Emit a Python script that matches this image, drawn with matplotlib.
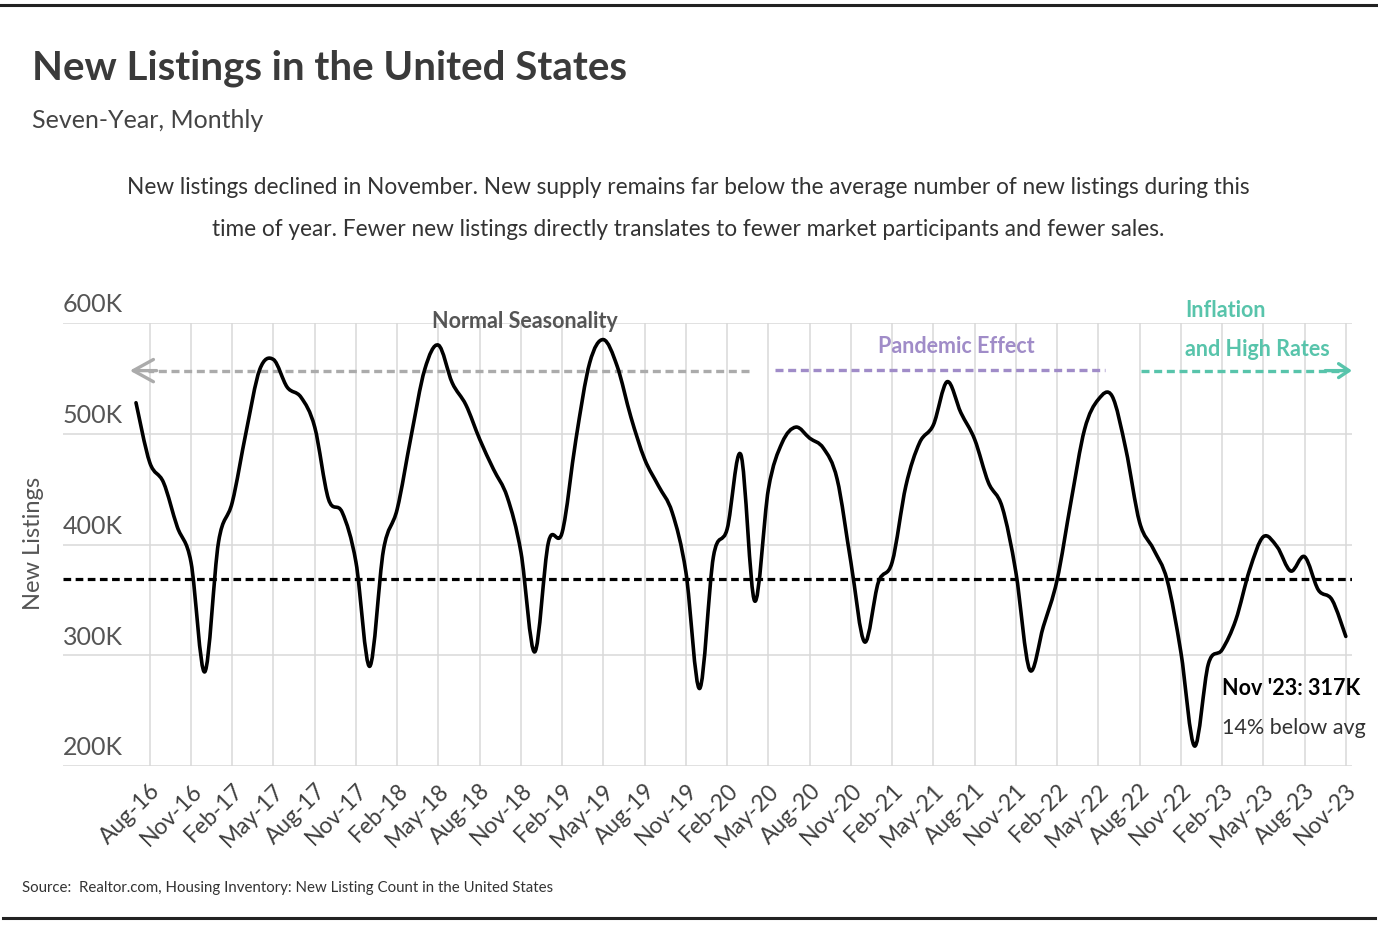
import numpy as np
import matplotlib.pyplot as plt
from matplotlib.path import Path
from matplotlib.patches import PathPatch
from matplotlib.lines import Line2D

# Monthly new listings (thousands), Jul-16 .. Nov-23
new_listings = [
    528, 474, 456, 416, 384, 285,
    402, 438, 501, 558, 567, 542, 533, 506, 441, 429, 384, 290,
    395, 432, 497, 558, 580, 546, 526, 495, 468, 443, 393, 303,
    402, 411, 495, 564, 585, 561, 515, 477, 453, 429, 375, 270,
    389, 414, 481, 349, 450, 492, 506, 496, 487, 459, 384, 312,
    366, 384, 453, 492, 508, 547, 519, 495, 456, 434, 375, 287,
    326, 368, 438, 504, 531, 534, 486, 420, 396, 368, 303, 218,
    292, 305, 332, 377, 407, 398, 376, 389, 359, 350, 317,
]
average = 369
tick_labels = ["Aug-16", "Nov-16", "Feb-17", "May-17", "Aug-17", "Nov-17",
               "Feb-18", "May-18", "Aug-18", "Nov-18", "Feb-19", "May-19",
               "Aug-19", "Nov-19", "Feb-20", "May-20", "Aug-20", "Nov-20",
               "Feb-21", "May-21", "Aug-21", "Nov-21", "Feb-22", "May-22",
               "Aug-22", "Nov-22", "Feb-23", "May-23", "Aug-23", "Nov-23"]
y_ticks = [200, 300, 400, 500, 600]

plt.rcParams["font.family"] = ["Lato", "DejaVu Sans"]

fig = plt.figure(figsize=(13.78, 9.26), dpi=100)
ax = fig.add_axes([63 / 1378, 1 - 766 / 926, (1352 - 63) / 1378, (766 - 323) / 926])

x = np.arange(len(new_listings))
y = np.array(new_listings, dtype=float)

# smoothed line (Catmull-Rom as cubic Bezier segments)
verts = [(x[0], y[0])]
codes = [Path.MOVETO]
n = len(x)
for i in range(n - 1):
    p0 = np.array([x[max(i - 1, 0)], y[max(i - 1, 0)]])
    p1 = np.array([x[i], y[i]])
    p2 = np.array([x[i + 1], y[i + 1]])
    p3 = np.array([x[min(i + 2, n - 1)], y[min(i + 2, n - 1)]])
    c1 = p1 + (p2 - p0) / 6
    c2 = p2 - (p3 - p1) / 6
    verts += [tuple(c1), tuple(c2), tuple(p2)]
    codes += [Path.CURVE4] * 3
ax.add_patch(PathPatch(Path(verts, codes), facecolor="none", edgecolor="black",
                       lw=2.6, zorder=4, capstyle="round", joinstyle="round"))

ax.axhline(average, color="black", lw=2.3, ls=(0, (2.4, 1.4)), zorder=3)

ax.set_xlim(-5.31, 88.45)
ax.set_ylim(200, 600)
tick_pos = np.arange(1, len(x), 3)
ax.set_xticks(tick_pos)
ax.set_xticklabels(tick_labels, rotation=45, ha="right", rotation_mode="anchor",
                   fontsize=16.5, color="#404040")
ax.tick_params(axis="x", length=0, pad=10)
ax.set_yticks(y_ticks)
ax.set_yticklabels([])
ax.tick_params(axis="y", length=0)
ax.grid(True, color="#d9d9d9", lw=1.1)
ax.set_axisbelow(True)
for s in ax.spines.values():
    s.set_visible(False)

for v in y_ticks:
    ax.text(0.0, v + 6, f"{v}K", transform=ax.get_yaxis_transform(), ha="left",
            va="bottom", fontsize=18, color="#555555")

fig.text(33 / 1378, 1 - 543 / 926, "New Listings", rotation=90, ha="center", va="center",
         fontsize=17, color="#555555")

# period annotations
grey, purple, teal = "#ababab", "#a08cc8", "#58c4ab"
dash = (0, (2.4, 1.4))
ax.plot([44.6, 0.9], [557, 557], color=grey, lw=2.4, ls=dash, clip_on=False)
ax.annotate("", xy=(-0.45, 557), xytext=(1.5, 557),
            arrowprops=dict(arrowstyle="->, head_length=1.45, head_width=0.8", color=grey,
                            lw=2.4, shrinkA=0, shrinkB=0),
            annotation_clip=False)
ax.text(28.3, 601, "Normal Seasonality", ha="center", va="center", fontsize=15.5,
        fontweight="bold", color="#555555")

ax.plot([46.5, 70.5], [558, 558], color=purple, lw=2.4, ls=dash)
ax.text(59.7, 579, "Pandemic Effect", ha="center", va="center", fontsize=15.5,
        fontweight="bold", color=purple)

ax.plot([73.1, 87.8], [557, 557], color=teal, lw=2.4, ls=dash, clip_on=False)
ax.annotate("", xy=(88.45, 557), xytext=(86.5, 557),
            arrowprops=dict(arrowstyle="->, head_length=0.75, head_width=0.5", color=teal,
                            lw=2.4, shrinkA=0, shrinkB=0),
            annotation_clip=False)
ax.text(76.3, 611.5, "Inflation", ha="left", va="center", fontsize=15.5,
        fontweight="bold", color=teal, clip_on=False)
ax.text(76.3, 576.5, "and High Rates", ha="left", va="center", fontsize=15.5,
        fontweight="bold", color=teal)

ax.text(79.0, 270, "Nov '23: 317K", ha="left", va="center", fontsize=15.5,
        fontweight="bold", color="black", clip_on=False)
ax.text(79.0, 234, "14% below avg", ha="left", va="center", fontsize=15.5,
        color="#333333", clip_on=False)

# titles and notes
fig.text(32 / 1378, 1 - 68 / 926, "New Listings in the United States", ha="left", va="center",
         fontsize=29, fontweight="bold", color="#3a3a3a")
fig.text(32 / 1378, 1 - 121 / 926, "Seven-Year, Monthly", ha="left", va="center",
         fontsize=18, color="#444444")
fig.text(688 / 1378, 1 - 187 / 926,
         "New listings declined in November. New supply remains far below the average number of new listings during this",
         ha="center", va="center", fontsize=16.3, color="#333333")
fig.text(688 / 1378, 1 - 230 / 926,
         "time of year. Fewer new listings directly translates to fewer market participants and fewer sales.",
         ha="center", va="center", fontsize=16.3, color="#333333")
fig.text(22 / 1378, 1 - 888 / 926,
         "Source:  Realtor.com, Housing Inventory: New Listing Count in the United States",
         ha="left", va="center", fontsize=10.8, color="#333333")

fig.add_artist(Line2D([0, 1], [1 - 5 / 926, 1 - 5 / 926], color="#222222", lw=2.2,
                      transform=fig.transFigure))
fig.add_artist(Line2D([3 / 1378, 1375 / 1378], [1 - 918 / 926, 1 - 918 / 926], color="#222222",
                      lw=2.2, transform=fig.transFigure))

fig.savefig("out.png", dpi=100)
